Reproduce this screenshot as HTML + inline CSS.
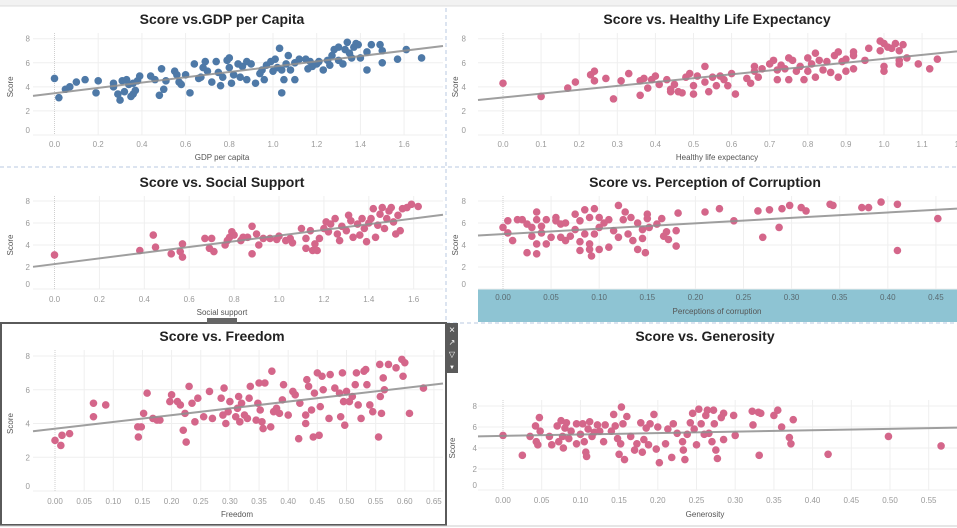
<!DOCTYPE html>
<html><head><meta charset="utf-8"><style>
body{margin:0;background:#fff;width:957px;height:528px;overflow:hidden;font-family:"Liberation Sans",sans-serif}
svg{position:absolute;left:0;top:0}
</style></head><body>
<svg id="dash" width="957" height="528" viewBox="0 0 957 528" xmlns="http://www.w3.org/2000/svg">
<rect x="0" y="0" width="957" height="6" fill="#f2f2f2"/>
<line x1="0" y1="6" x2="957" y2="6" fill="none" stroke="#dcdcdc"/>
<line x1="446" y1="8" x2="446" y2="320" stroke="#b8c8e0" stroke-dasharray="4,3"/>
<line x1="0" y1="167" x2="957" y2="167" stroke="#b8c8e0" stroke-dasharray="4,3"/>
<line x1="446" y1="323" x2="957" y2="323" stroke="#b8c8e0" stroke-dasharray="4,3"/>
<rect x="478" y="289" width="479" height="33" fill="#8ec4d3"/>
<g id="charts"></g>
<rect x="1" y="323" width="445" height="202" fill="none" stroke="#5a5a5a" stroke-width="2"/>
<rect x="207" y="318" width="30" height="6" fill="#666"/>
<g>
<rect x="446" y="323" width="12" height="50" fill="#5a5a5a"/>
<text x="452" y="333" font-size="10" fill="#fff" text-anchor="middle">×</text>
<text x="452" y="345" font-size="8" fill="#fff" text-anchor="middle">↗</text>
<text x="452" y="357" font-size="8" fill="#fff" text-anchor="middle">▽</text>
<text x="452" y="369" font-size="6" fill="#fff" text-anchor="middle">▼</text>
</g>
<line x1="0" y1="526" x2="957" y2="526" stroke="#ccc"/>
</svg>
<script>
const yTicks=[0,2,4,6,8];
const gdpTicks=[0,0.2,0.4,0.6,0.8,1.0,1.2,1.4,1.6];
const healthTicks=[0,0.1,0.2,0.3,0.4,0.5,0.6,0.7,0.8,0.9,1.0,1.1,1.2];
const socialTicks=[0,0.2,0.4,0.6,0.8,1.0,1.2,1.4,1.6];
const corrTicks=[0,0.05,0.1,0.15,0.2,0.25,0.3,0.35,0.4,0.45];
const freeTicks=[0,0.05,0.1,0.15,0.2,0.25,0.3,0.35,0.4,0.45,0.5,0.55,0.6,0.65];
const genTicks=[0,0.05,0.1,0.15,0.2,0.25,0.3,0.35,0.4,0.45,0.5,0.55];
const gdpPoints=[[0,4.7],[0.02,3.1],[0.05,3.8],[0.07,4.0],[0.1,4.4],[0.14,4.6],[0.19,3.5],[0.2,4.5],[0.27,4.3],[0.27,4.0],[0.29,3.4],[0.3,2.9],[0.31,4.5],[0.32,3.6],[0.33,4.6],[0.34,4.2],[0.35,3.2],[0.36,3.4],[0.36,4.3],[0.37,3.7],[0.38,4.5],[0.39,4.9],[0.44,4.9],[0.46,4.6],[0.48,3.3],[0.49,5.5],[0.5,3.8],[0.51,4.5],[0.55,5.3],[0.56,5.0],[0.57,4.4],[0.58,4.2],[0.6,5.0],[0.62,3.5],[0.64,5.9],[0.66,4.7],[0.67,4.8],[0.68,5.6],[0.69,6.1],[0.7,5.3],[0.72,4.4],[0.74,6.1],[0.75,5.2],[0.76,4.1],[0.77,4.8],[0.79,6.2],[0.8,6.4],[0.8,5.6],[0.81,4.3],[0.82,5.0],[0.84,5.9],[0.85,4.8],[0.86,5.7],[0.88,6.1],[0.88,4.6],[0.9,5.9],[0.92,4.3],[0.94,5.1],[0.95,5.4],[0.96,4.6],[0.97,5.8],[0.99,6.1],[1.0,5.3],[1.01,6.3],[1.02,5.6],[1.03,7.2],[1.04,3.5],[1.04,5.4],[1.05,4.6],[1.06,5.9],[1.07,6.6],[1.08,5.4],[1.1,4.6],[1.1,6.0],[1.12,6.3],[1.15,6.3],[1.16,5.5],[1.17,6.1],[1.18,5.7],[1.2,5.9],[1.21,6.1],[1.23,5.4],[1.25,6.2],[1.26,5.8],[1.27,6.6],[1.28,7.1],[1.3,7.3],[1.3,6.2],[1.32,5.9],[1.33,7.1],[1.34,7.7],[1.35,6.8],[1.36,6.4],[1.37,7.3],[1.38,7.6],[1.39,7.5],[1.4,6.4],[1.43,5.4],[1.43,6.9],[1.45,7.5],[1.49,7.5],[1.5,7.0],[1.5,6.0],[1.57,6.3],[1.61,7.1],[1.68,6.4]];
const healthPoints=[[0,4.3],[0.1,3.2],[0.17,3.9],[0.19,4.4],[0.23,5.0],[0.24,5.3],[0.24,4.5],[0.27,4.7],[0.29,3.0],[0.31,4.5],[0.33,5.1],[0.36,4.5],[0.36,3.3],[0.37,4.7],[0.38,3.9],[0.39,4.6],[0.4,4.9],[0.41,4.2],[0.43,4.6],[0.44,3.8],[0.44,3.6],[0.45,4.2],[0.46,3.6],[0.47,3.5],[0.48,4.8],[0.49,5.1],[0.5,4.1],[0.5,3.4],[0.51,4.9],[0.53,4.4],[0.53,5.7],[0.54,3.6],[0.55,4.8],[0.56,4.1],[0.57,4.9],[0.58,4.6],[0.59,4.1],[0.6,5.1],[0.61,3.4],[0.64,4.7],[0.65,4.3],[0.66,5.7],[0.66,5.3],[0.67,4.8],[0.68,5.5],[0.7,5.9],[0.71,6.2],[0.72,5.4],[0.72,4.6],[0.73,5.8],[0.74,5.5],[0.75,6.4],[0.75,4.6],[0.76,6.2],[0.77,5.3],[0.78,5.7],[0.79,4.6],[0.8,6.4],[0.8,5.3],[0.81,5.9],[0.82,4.8],[0.82,6.8],[0.83,6.2],[0.84,5.4],[0.85,6.1],[0.86,5.2],[0.87,6.6],[0.88,6.9],[0.88,4.8],[0.89,6.1],[0.9,6.3],[0.9,5.3],[0.92,6.6],[0.92,6.9],[0.92,5.5],[0.95,6.2],[0.96,7.2],[0.99,7.8],[0.99,7.0],[1.0,7.6],[1.0,5.7],[1.0,5.3],[1.01,7.3],[1.02,7.2],[1.03,7.6],[1.04,7.0],[1.04,6.2],[1.04,5.9],[1.05,7.5],[1.06,6.4],[1.09,5.9],[1.12,5.5],[1.14,6.3]];
const socialPoints=[[0,3.1],[0.38,3.5],[0.44,4.9],[0.45,3.8],[0.52,3.2],[0.56,3.4],[0.57,4.1],[0.57,2.9],[0.67,4.6],[0.69,3.7],[0.7,4.6],[0.71,3.4],[0.76,4.0],[0.77,4.4],[0.78,4.7],[0.79,5.2],[0.8,4.9],[0.83,4.4],[0.84,4.7],[0.86,4.7],[0.88,5.7],[0.88,3.2],[0.9,5.0],[0.91,4.0],[0.93,4.6],[0.96,4.6],[0.99,4.5],[1.0,4.8],[1.03,4.4],[1.05,4.6],[1.06,4.2],[1.1,5.5],[1.12,3.7],[1.12,4.6],[1.14,5.3],[1.15,3.5],[1.16,4.1],[1.17,3.5],[1.18,4.6],[1.2,5.5],[1.21,6.1],[1.22,5.2],[1.23,5.9],[1.25,6.4],[1.26,5.0],[1.27,4.4],[1.28,5.7],[1.3,5.3],[1.31,6.7],[1.32,6.2],[1.33,4.7],[1.35,5.9],[1.36,4.9],[1.37,6.4],[1.38,5.5],[1.39,4.3],[1.4,6.0],[1.41,6.4],[1.42,7.3],[1.43,4.7],[1.44,5.8],[1.45,6.8],[1.46,7.4],[1.47,5.5],[1.48,6.4],[1.49,7.1],[1.5,7.4],[1.51,6.1],[1.52,5.0],[1.53,6.7],[1.54,5.3],[1.55,7.3],[1.57,7.4],[1.59,7.7],[1.62,7.5]];
const corrPoints=[[0,5.6],[0.005,6.2],[0.005,5.1],[0.01,4.4],[0.015,6.3],[0.02,6.3],[0.025,5.9],[0.025,3.3],[0.03,5.6],[0.03,4.8],[0.035,6.3],[0.035,3.2],[0.035,7.0],[0.035,4.1],[0.04,5.7],[0.04,5.1],[0.045,6.3],[0.045,4.1],[0.05,4.7],[0.055,6.2],[0.055,6.5],[0.06,5.9],[0.06,4.7],[0.065,6.0],[0.065,4.4],[0.07,4.8],[0.075,6.8],[0.075,5.4],[0.08,6.2],[0.08,3.5],[0.08,4.3],[0.085,7.2],[0.085,5.0],[0.09,6.5],[0.09,4.1],[0.09,3.6],[0.092,3.0],[0.095,7.3],[0.095,5.0],[0.1,6.5],[0.1,5.6],[0.1,3.6],[0.105,6.0],[0.11,6.3],[0.11,3.8],[0.115,5.3],[0.12,7.6],[0.12,4.7],[0.125,6.3],[0.127,7.0],[0.13,5.0],[0.133,6.5],[0.135,4.4],[0.14,6.0],[0.14,3.6],[0.145,5.4],[0.145,4.6],[0.148,3.3],[0.15,6.8],[0.15,6.4],[0.152,5.6],[0.16,5.9],[0.165,6.4],[0.167,4.8],[0.17,5.2],[0.172,4.5],[0.18,3.9],[0.18,5.3],[0.182,6.9],[0.21,7.0],[0.225,7.3],[0.24,6.2],[0.265,7.1],[0.27,4.7],[0.277,7.2],[0.287,5.6],[0.29,7.3],[0.298,7.6],[0.31,7.4],[0.315,7.1],[0.34,7.7],[0.343,7.6],[0.373,7.4],[0.38,7.4],[0.393,7.9],[0.41,7.7],[0.41,3.5],[0.452,6.4]];
const freePoints=[[0,3.0],[0.01,2.7],[0.012,3.3],[0.025,3.4],[0.066,5.2],[0.066,4.4],[0.087,5.1],[0.142,3.8],[0.143,3.2],[0.148,3.8],[0.152,4.6],[0.158,5.8],[0.168,4.3],[0.175,4.2],[0.18,4.2],[0.197,5.3],[0.2,5.7],[0.21,5.3],[0.215,5.1],[0.22,3.6],[0.223,4.6],[0.225,2.9],[0.23,6.2],[0.235,5.2],[0.24,4.1],[0.245,5.5],[0.255,4.4],[0.265,5.9],[0.27,4.3],[0.285,5.5],[0.288,4.5],[0.29,6.1],[0.293,4.0],[0.297,4.7],[0.3,5.3],[0.31,4.4],[0.313,4.9],[0.315,5.6],[0.317,4.1],[0.32,5.2],[0.325,4.5],[0.33,4.3],[0.333,5.5],[0.335,6.2],[0.345,4.2],[0.348,5.2],[0.35,6.4],[0.352,4.8],[0.355,4.1],[0.357,3.7],[0.36,6.4],[0.37,3.8],[0.372,7.1],[0.375,4.7],[0.38,4.9],[0.385,4.6],[0.39,5.4],[0.392,6.3],[0.4,4.5],[0.408,5.9],[0.412,5.7],[0.418,3.1],[0.42,5.2],[0.43,4.5],[0.43,4.0],[0.432,6.6],[0.435,6.2],[0.44,4.8],[0.443,3.2],[0.445,5.8],[0.45,7.0],[0.453,3.3],[0.455,5.0],[0.458,6.8],[0.46,6.0],[0.47,4.3],[0.472,6.9],[0.48,6.1],[0.488,5.8],[0.49,4.4],[0.493,7.0],[0.495,5.3],[0.497,3.9],[0.5,5.9],[0.505,5.3],[0.51,5.6],[0.515,6.3],[0.517,7.0],[0.52,5.1],[0.525,4.3],[0.53,7.1],[0.533,7.2],[0.535,6.3],[0.54,5.1],[0.545,4.7],[0.555,3.2],[0.557,7.5],[0.558,5.6],[0.56,4.6],[0.563,6.7],[0.565,6.0],[0.572,7.5],[0.585,7.3],[0.595,7.8],[0.597,6.8],[0.6,7.6],[0.608,4.6],[0.632,6.1]];
const genPoints=[[0,5.2],[0.025,3.3],[0.035,5.1],[0.042,6.1],[0.043,4.6],[0.045,4.3],[0.047,6.9],[0.048,5.6],[0.06,5.1],[0.063,4.3],[0.07,6.1],[0.072,4.6],[0.075,6.6],[0.077,5.1],[0.078,4.0],[0.08,5.9],[0.082,6.4],[0.085,4.9],[0.088,5.6],[0.095,6.3],[0.095,4.4],[0.1,5.3],[0.103,6.3],[0.105,4.6],[0.107,3.6],[0.108,3.2],[0.11,5.8],[0.112,6.5],[0.115,5.1],[0.118,5.5],[0.122,6.2],[0.125,5.6],[0.13,4.6],[0.132,6.2],[0.14,5.6],[0.143,7.2],[0.145,6.1],[0.148,4.9],[0.15,3.4],[0.152,4.4],[0.153,7.9],[0.155,6.3],[0.157,2.9],[0.16,7.0],[0.165,5.1],[0.17,3.8],[0.173,4.4],[0.178,6.4],[0.18,3.6],[0.182,4.8],[0.185,5.9],[0.188,4.3],[0.19,6.3],[0.195,7.2],[0.198,3.9],[0.2,6.0],[0.202,2.6],[0.21,4.4],[0.213,5.8],[0.218,3.1],[0.22,6.3],[0.225,5.4],[0.232,4.6],[0.233,3.8],[0.235,2.9],[0.238,5.3],[0.242,6.4],[0.245,7.3],[0.247,5.8],[0.25,4.3],[0.253,7.7],[0.256,6.3],[0.26,5.3],[0.262,7.1],[0.264,7.6],[0.266,5.4],[0.27,4.6],[0.272,7.6],[0.273,6.3],[0.275,3.8],[0.277,3.0],[0.282,6.9],[0.285,7.3],[0.285,4.8],[0.298,7.1],[0.3,5.2],[0.322,7.5],[0.323,6.2],[0.33,7.4],[0.331,3.3],[0.333,7.3],[0.35,7.1],[0.355,7.6],[0.36,6.0],[0.37,5.0],[0.372,4.4],[0.375,6.7],[0.42,3.4],[0.498,5.1],[0.566,4.2]];

const NS="http://www.w3.org/2000/svg";
const root=document.getElementById('charts');
function mk(tag,attrs,parent){const e=document.createElementNS(NS,tag);for(const k in attrs)e.setAttribute(k,attrs[k]);parent.appendChild(e);return e;}

function drawPanel(c,points,xTicks,dec){
  const g=mk('g',{},root);
  
  
  const sx=v=>c.x0+v*c.xk;
  const sy=v=>c.y0+(c.y8-c.y0)*v/8;
  // title
  const t=mk('text',{x:c.tx,y:c.ty,'font-size':14,'font-weight':'bold','text-anchor':'middle',fill:'#222'},g);
  t.textContent=c.title;
  
  
  // horizontal grid + y labels
  yTicks.forEach(v=>{
    const gl=mk('line',{x1:c.left,x2:c.right,y1:sy(v),y2:sy(v),stroke:'#efefef'},g);
    
    
    const lb=mk('text',{x:c.ylx,y:Math.min(sy(v)+3,c.y0-2),'font-size':8,fill:'#9a9a9a','text-anchor':'end'},g);
    lb.textContent=String(v);
    
    
  });
  // vertical grid + x labels
  xTicks.forEach(v=>{
    const x=sx(v);
    if(x>c.right+6) return;
    const gl=mk('line',{x1:x,x2:x,y1:c.top,y2:c.y0,stroke:v===0?'#cfcfcf':'#efefef','stroke-dasharray':v===0?'1,1':'none'},g);
    
    
    const lb=mk('text',{x:x,y:c.xly,'font-size':8,fill:c.band?'#5a6a70':'#9a9a9a','text-anchor':'middle'},g);
    lb.textContent=v.toFixed(dec);
    
    
  });
  // axis titles
  const at=mk('text',{x:c.atx,y:c.aty,'font-size':8,fill:'#555','text-anchor':'middle'},g);
  at.textContent=c.xTitle;
  
  
  const yc=(c.y0+c.y8)/2;
  const yt=mk('text',{x:c.ytx,y:yc,'font-size':8,fill:'#555','text-anchor':'middle',transform:'rotate(-90 '+c.ytx+' '+yc+')'},g);
  yt.textContent='Score';
  
  
  // points
  points.forEach(p=>{
    const d=mk('circle',{cx:sx(p[0]),cy:sy(p[1]),r:3.8,fill:c.color},g);
    
    
  });
  // regression line (least squares)
  const n=points.length;let mx=0,my=0;points.forEach(p=>{mx+=p[0];my+=p[1];});mx/=n;my/=n;
  let sxy=0,sxx=0;points.forEach(p=>{sxy+=(p[0]-mx)*(p[1]-my);sxx+=(p[0]-mx)*(p[0]-mx);});
  const b=sxy/sxx,a=my-b*mx;
  const v1=(c.left-c.x0)/c.xk,v2=(c.right-c.x0)/c.xk;
  const tl=mk('line',{x1:c.left,y1:sy(a+b*v1),x2:c.right,y2:sy(a+b*v2),stroke:'#8f8f8f','stroke-width':2,opacity:0.85},g);
  
  
}
const BLUE='#4e79a7',PINK='#d4668a';
drawPanel({name:'gdp',title:'Score vs.GDP per Capita',tx:222,ty:24,color:BLUE,x0:54.5,xk:218.5,y8:38.7,y0:135,left:33,right:443,top:33,ylx:30,ytx:13,xly:147,atx:222,aty:160,xTitle:'GDP per capita'},gdpPoints,gdpTicks,1);
drawPanel({name:'health',title:'Score vs. Healthy Life Expectancy',tx:717,ty:24,color:PINK,x0:503,xk:381,y8:38.7,y0:135,left:478,right:957,top:33,ylx:466,ytx:458,xly:147,atx:717,aty:160,xTitle:'Healthy life expectancy'},healthPoints,healthTicks,1);
drawPanel({name:'social',title:'Score vs. Social Support',tx:222,ty:187,color:PINK,x0:54.5,xk:224.5,y8:201,y0:289,left:33,right:443,top:196,ylx:30,ytx:13,xly:302,atx:222,aty:315,xTitle:'Social support'},socialPoints,socialTicks,1);
drawPanel({name:'corruption',band:true,title:'Score vs. Perception of Corruption',tx:705,ty:187,color:PINK,x0:503,xk:962,y8:201,y0:289,left:478,right:957,top:196,ylx:466,ytx:458,xly:300,atx:717,aty:314,xTitle:'Perceptions of corruption'},corrPoints,corrTicks,2);
drawPanel({name:'freedom',title:'Score vs. Freedom',tx:222,ty:341,color:PINK,x0:55,xk:583,y8:356,y0:491,left:33,right:443,top:350,ylx:30,ytx:13,xly:504,atx:237,aty:517,xTitle:'Freedom'},freePoints,freeTicks,2);
drawPanel({name:'generosity',title:'Score vs. Generosity',tx:705,ty:341,color:PINK,x0:503,xk:774,y8:406,y0:490,left:478,right:957,top:400,ylx:477,ytx:455,xly:503,atx:705,aty:517,xTitle:'Generosity'},genPoints,genTicks,2);
</script>
</body></html>
